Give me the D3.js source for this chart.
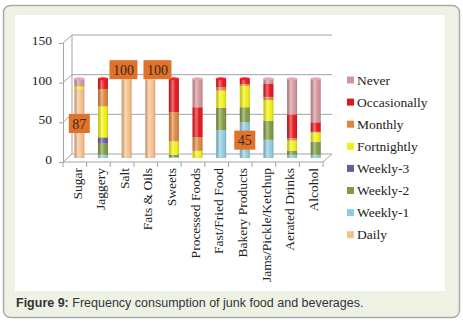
<!DOCTYPE html>
<html>
<head>
<meta charset="utf-8">
<script src="https://cdn.jsdelivr.net/npm/d3@7"></script>
<style>
  body { margin: 0; background: #fff; }
  svg { display: block; }
  .serif { font-family: "Liberation Serif", Tinos, "DejaVu Serif", serif; font-size: 13.5px; }
</style>
</head>
<body>
<div id="chart"></div>
<script>
// chart data
var categories = ["Sugar", "Jaggery", "Salt", "Fats & Oils", "Sweets", "Processed Foods",
    "Fast/Fried Food", "Bakery Products", "Jams/Pickle/Ketchup", "Aerated Drinks", "Alcohol"];

// stacking order, bottom to top
var seriesNames = ["Daily", "Weekly-1", "Weekly-2", "Weekly-3", "Fortnightly", "Monthly", "Occasionally", "Never"];

var daily        = [87, 0, 100, 100, 0, 0, 0, 0, 0, 0, 0];
var weekly1      = [0, 4, 0, 0, 1, 0, 35, 45, 23, 4, 4];
var weekly2      = [0, 14, 0, 0, 3, 0, 27, 19, 24, 5, 15];
var weekly3      = [0, 8, 0, 0, 0, 0, 1, 0, 0, 0, 1];
var fortnightly  = [3, 39, 0, 0, 17, 9, 22, 27, 26, 13, 12];
var monthly      = [0, 22, 0, 0, 37, 17, 4, 2, 4, 3, 1];
var occasionally = [0, 13, 0, 0, 42, 38, 11, 7, 17, 30, 12];
var never        = [10, 0, 0, 0, 0, 36, 0, 0, 6, 45, 55];

var yTicks = [0, 50, 100, 150];

// labelled segments
var labelCats   = ["Sugar", "Salt", "Fats & Oils", "Bakery Products"];
var labelSeries = ["Daily", "Daily", "Daily", "Weekly-1"];

var seriesValues = [daily, weekly1, weekly2, weekly3, fortnightly, monthly, occasionally, never];
var colors = ["#f6bf8c", "#8fcbe0", "#7f9c3e", "#6b5b98", "#f0f012", "#df853c", "#e3161c", "#d3959b"];

var svgWidth = 463;
var svgHeight = 322;

var svg = d3.select("#chart")
    .append("svg")
    .attr("width", svgWidth)
    .attr("height", svgHeight);

// frame
svg.append("rect")
    .attr("x", 3.5).attr("y", 5.5)
    .attr("width", 456).attr("height", 312)
    .attr("rx", 7)
    .attr("fill", "#eef2e5")
    .attr("stroke", "#a9aba6")
    .attr("stroke-width", 1.5);

svg.append("rect")
    .attr("x", 15).attr("y", 15)
    .attr("width", 430).attr("height", 276)
    .attr("fill", "#ffffff");

svg.append("text")
    .attr("x", 16)
    .attr("y", 307)
    .style("font-family", "'Liberation Sans', Arial, sans-serif")
    .style("font-size", "12.5px")
    .attr("fill", "#333")
    .call(t => {
        t.append("tspan").style("font-weight", "bold").text("Figure 9:");
        t.append("tspan").text(" Frequency consumption of junk food and beverages.");
    });

// pseudo 3D chart area
var left = 63, right = 323;
var depthX = 9, depthY = -8;

var x = d3.scaleBand()
    .domain(categories)
    .range([left, right]);

var y = d3.scaleLinear()
    .domain([0, 150])
    .range([162, 43]);

var g = svg.append("g");

var gridColor = "#a3a3a3";

// back wall gridlines
g.selectAll(".grid")
    .data(yTicks)
    .enter()
    .append("line")
    .attr("x1", left + depthX)
    .attr("x2", right + depthX)
    .attr("y1", d => y(d) + depthY)
    .attr("y2", d => y(d) + depthY)
    .attr("stroke", gridColor)
    .attr("stroke-width", 1);

// side wall lines
g.selectAll(".side")
    .data(yTicks)
    .enter()
    .append("line")
    .attr("x1", left)
    .attr("x2", left + depthX)
    .attr("y1", d => y(d))
    .attr("y2", d => y(d) + depthY)
    .attr("stroke", gridColor);

g.append("line")
    .attr("x1", left + depthX).attr("x2", left + depthX)
    .attr("y1", y(150) + depthY).attr("y2", y(0) + depthY)
    .attr("stroke", gridColor);

// floor
g.append("path")
    .attr("d", `M${left},${y(0)} L${right},${y(0)} L${right + depthX},${y(0) + depthY}`)
    .attr("fill", "none")
    .attr("stroke", gridColor);

// y axis
var yAxis = d3.axisLeft(y).tickValues(yTicks).tickSize(4).tickPadding(7);
var yAxisG = svg.append("g")
    .attr("transform", `translate(${left}, 0)`)
    .call(yAxis)
    .attr("font-family", null)
    .attr("font-size", null);
yAxisG.select(".domain").attr("stroke", gridColor);
yAxisG.selectAll(".tick line").attr("stroke", gridColor);
yAxisG.selectAll("text")
    .attr("class", "serif")
    .attr("dy", "0.1em")
    .attr("fill", "#222");

// x axis
var xAxis = d3.axisBottom(x).tickSize(0).tickPadding(0);
var xAxisG = svg.append("g")
    .attr("transform", `translate(0, ${y(0)})`)
    .call(xAxis)
    .attr("font-family", null)
    .attr("font-size", null);
xAxisG.select(".domain").remove();
xAxisG.selectAll("text")
    .attr("class", "serif")
    .attr("transform", "translate(2, 6) rotate(-90)")
    .attr("text-anchor", "end")
    .attr("x", 0)
    .attr("y", 0)
    .attr("dy", "0.35em")
    .attr("fill", "#222");

// category separator ticks
g.selectAll(".xtick")
    .data(categories.concat(["end"]))
    .enter()
    .append("line")
    .attr("x1", (d, i) => left + i * x.bandwidth())
    .attr("x2", (d, i) => left + i * x.bandwidth())
    .attr("y1", y(0))
    .attr("y2", y(0) + 5)
    .attr("stroke", gridColor);

// cylinder shading
var defs = svg.append("defs");
var shade = defs.append("linearGradient")
    .attr("id", "shade")
    .attr("x1", "0%").attr("x2", "100%");
shade.append("stop").attr("offset", "0%").attr("stop-color", "#000").attr("stop-opacity", 0.15);
shade.append("stop").attr("offset", "35%").attr("stop-color", "#fff").attr("stop-opacity", 0.4);
shade.append("stop").attr("offset", "70%").attr("stop-color", "#fff").attr("stop-opacity", 0.0);
shade.append("stop").attr("offset", "100%").attr("stop-color", "#000").attr("stop-opacity", 0.2);

var barWidth = 10;
var barShiftX = depthX / 2;
var barShiftY = depthY / 2;

var tableRows = categories.map(function(c, i) {
    var row = { category: c };
    seriesNames.forEach(function(s, j) { row[s] = seriesValues[j][i]; });
    return row;
});

var stacked = d3.stack().keys(seriesNames)(tableRows);

var barCx = d => x(d.data.category) + x.bandwidth() / 2 + barShiftX;

var layers = g.selectAll(".layer")
    .data(stacked)
    .enter()
    .append("g")
    .attr("fill", (d, i) => colors[i]);

layers.selectAll("rect")
    .data(d => d.filter(p => p[1] - p[0] > 0))
    .enter()
    .append("rect")
    .attr("x", d => barCx(d) - barWidth / 2)
    .attr("y", d => y(d[1]) + barShiftY)
    .attr("width", barWidth)
    .attr("height", d => y(d[0]) - y(d[1]));

// shading overlay and top cap per bar
var tops = categories.map(function(c) {
    var tot = d3.sum(seriesValues, s => s[categories.indexOf(c)]);
    return { category: c, total: tot };
});

g.selectAll(".shadebar")
    .data(tops)
    .enter()
    .append("rect")
    .attr("x", d => x(d.category) + x.bandwidth() / 2 + barShiftX - barWidth / 2)
    .attr("y", d => y(d.total) + barShiftY)
    .attr("width", barWidth)
    .attr("height", d => y(0) - y(d.total))
    .attr("fill", "url(#shade)");

g.selectAll(".cap")
    .data(tops)
    .enter()
    .append("ellipse")
    .attr("cx", d => x(d.category) + x.bandwidth() / 2 + barShiftX)
    .attr("cy", d => y(d.total) + barShiftY)
    .attr("rx", barWidth / 2)
    .attr("ry", 1.5)
    .attr("fill", function(d) {
        var i = categories.indexOf(d.category);
        var top = 0;
        seriesValues.forEach(function(s, j) { if (s[i] > 0) top = j; });
        return d3.color(colors[top]).brighter(0.3);
    });

// data labels
var labels = labelCats.map(function(c, k) {
    var si = seriesNames.indexOf(labelSeries[k]);
    var seg = stacked[si][categories.indexOf(c)];
    var val = seg[1] - seg[0];
    var cx = x(c) + x.bandwidth() / 2 + barShiftX;
    var cy = val >= 100 ? y(seg[1]) + barShiftY - 9 : y((seg[0] + seg[1]) / 2) + barShiftY;
    return { text: String(val), cx: cx, cy: cy, w: String(val).length * 7 + 7 };
});

// push overlapping labels apart
for (var k = 1; k < labels.length; k++) {
    var a = labels[k - 1], b = labels[k];
    if (Math.abs(a.cy - b.cy) < 19) {
        var overlap = (a.cx + a.w / 2) - (b.cx - b.w / 2) + 6;
        if (overlap > 0) {
            a.cx -= overlap * 0.3;
            b.cx += overlap * 0.7;
        }
    }
}

var labelG = svg.selectAll(".dlabel")
    .data(labels)
    .enter()
    .append("g");

labelG.append("rect")
    .attr("x", d => d.cx - d.w / 2)
    .attr("y", d => d.cy - 9.5)
    .attr("width", d => d.w)
    .attr("height", 19)
    .attr("fill", "#e0722a");

labelG.append("text")
    .attr("class", "serif")
    .attr("x", d => d.cx)
    .attr("y", d => d.cy)
    .attr("dy", "0.36em")
    .attr("text-anchor", "middle")
    .style("font-size", "14px")
    .attr("fill", "#3b2a1c")
    .text(d => d.text);

// legend, top to bottom reversed
var legendOrder = seriesNames.slice().reverse();
var legend = svg.append("g")
    .attr("transform", "translate(347, 80)");

var legendItem = legend.selectAll(".item")
    .data(legendOrder)
    .enter()
    .append("g")
    .attr("transform", (d, i) => `translate(0, ${i * 22.1})`);

legendItem.append("rect")
    .attr("x", 0)
    .attr("y", -3.5)
    .attr("width", 7)
    .attr("height", 7)
    .attr("fill", d => colors[seriesNames.indexOf(d)]);

legendItem.append("text")
    .attr("class", "serif")
    .attr("x", 10)
    .attr("y", 0)
    .attr("dy", "0.35em")
    .attr("fill", "#222")
    .text(d => d);
</script>
</body>
</html>
